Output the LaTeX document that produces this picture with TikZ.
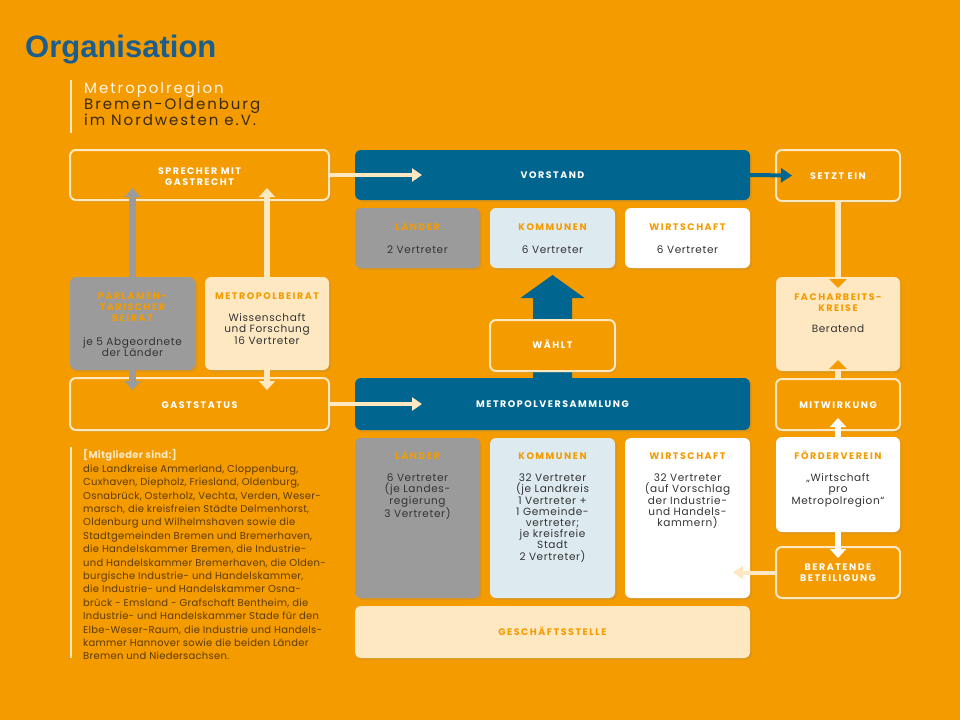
\documentclass[tikz,border=0pt]{standalone}
\usepackage{fontspec}
\setmainfont{Liberation Sans}
\newfontfamily\hfont[LetterSpace=16]{Poppins}
\newfontfamily\tfont[LetterSpace=6]{Poppins}
\newfontfamily\lfont[LetterSpace=2.5]{Poppins}
\newfontfamily\mfont[LetterSpace=13]{Poppins}
\usetikzlibrary{arrows.meta,fit,shadows}
\definecolor{org}{HTML}{F49B00}
\definecolor{dblue}{HTML}{00668F}
\definecolor{gry}{HTML}{9B9B9B}
\definecolor{lblue}{HTML}{DDEBF0}
\definecolor{cream}{HTML}{FEE8C2}
\definecolor{txt}{HTML}{333333}
\definecolor{ttl}{HTML}{1B5E8E}
\definecolor{brn}{HTML}{5E3B00}
\definecolor{mdark}{HTML}{3A2A12}
\newcommand\fl{\rule{0pt}{9pt}}
\begin{document}
\begin{tikzpicture}[x=1pt,y=-1pt,
  base/.style={inner sep=0pt, outer sep=0pt, rounded corners=6pt,
    drop shadow={opacity=0.18, shadow xshift=2pt, shadow yshift=-2pt}},
  orbox/.style={base, fill=org, draw=cream, line width=2pt},
  bluebox/.style={base, fill=dblue},
  greybox/.style={base, fill=gry},
  lbbox/.style={base, fill=lblue},
  crbox/.style={base, fill=cream},
  whbox/.style={base, fill=white},
  hd/.style={inner sep=0pt, anchor=north, align=center, font=\hfont\bfseries\fontsize{9.5}{11}\selectfont, text=org},
  hdw/.style={hd, text=white},
  tx/.style={inner sep=0pt, anchor=north, align=center, font=\tfont\fontsize{10.5}{11.2}\selectfont, text=txt},
  harr/.style={line width=4pt, -{Triangle[width=13pt,length=10pt]}},
  varr/.style={line width=6pt, -{Triangle[width=16pt,length=9pt]}},
  gvarr/.style={line width=7pt, -{Triangle[width=16pt,length=9pt]}}
]
\useasboundingbox (0,0) rectangle (960,720);
\fill[org] (0,0) rectangle (960,720);

% title and heading
\node[anchor=base west, inner sep=0pt, font=\bfseries\fontsize{31}{36}\selectfont, text=ttl] (title) at (25,57) {Organisation};
\draw[cream, line width=2pt] (71,80) -- (71,133);
\node[anchor=base west, inner sep=0pt, font=\mfont\fontsize{15}{15.5}\selectfont, text=cream!40!white] (m1) at (84,93.5) {Metropolregion};
\node[anchor=base west, inner sep=0pt, font=\mfont\fontsize{15}{15.5}\selectfont, text=mdark] (m2) at (84,109.5) {Bremen-Oldenburg};
\node[anchor=base west, inner sep=0pt, font=\mfont\fontsize{15}{15.5}\selectfont, text=mdark] (m3) at (84,125.5) {im Nordwesten e.V.};

% boxes
\node[orbox, fit={(70,150) (329,200)}] (spr) {};
\node[bluebox, fit={(355,150) (750,200)}] (vor) {};
\node[orbox, fit={(776,150) (900,201)}] (se) {};
\node[greybox, fit={(355,208) (480,268)}] (l1) {};
\node[lbbox, fit={(490,208) (615,268)}] (k1) {};
\node[whbox, fit={(625,208) (750,268)}] (w1) {};
\node[greybox, fit={(70,277) (195,370)}] (parl) {};
\node[crbox, fit={(205,277) (329,370)}] (mb) {};
\node[crbox, fit={(776,277) (900,371)}] (fak) {};
\node[orbox, fit={(70,378) (329,430)}] (gs) {};
\node[bluebox, fit={(355,378) (750,430)}] (mv) {};
\node[orbox, fit={(776,379) (900,430)}] (mw) {};
\node[greybox, fit={(355,438) (480,598)}] (l2) {};
\node[lbbox, fit={(490,438) (615,598)}] (k2) {};
\node[whbox, fit={(625,438) (750,598)}] (w2) {};
\node[whbox, fit={(776,437) (900,532)}] (fv) {};
\node[orbox, fit={(776,547) (900,598)}] (bb) {};
\node[crbox, fit={(355,606) (750,658)}] (gst) {};

% big arrow (waehlt)
\fill[dblue] ([xshift=-19.5pt]mv.north) -- ([xshift=-19.5pt,yshift=80pt]mv.north)
  -- ([xshift=-32pt,yshift=80pt]mv.north) -- ([yshift=103pt]mv.north)
  -- ([xshift=32pt,yshift=80pt]mv.north) -- ([xshift=19.5pt,yshift=80pt]mv.north)
  -- ([xshift=19.5pt]mv.north) -- cycle;
\node[orbox, fit={(490,320) (615,371)}] (wa) {};

% texts
\node[hdw] (spr-t) at (199.5,165.5) {\fl SPRECHER MIT\\GASTRECHT};
\node[hdw] (vor-t) at (552.5,169.5) {\fl VORSTAND};
\node[hdw] (se-t) at (838,170.5) {\fl SETZT EIN};
\node[hd] (l1-h) at (417.5,221.5) {\fl LÄNDER};
\node[tx] (l1-t) at (417.5,244.5) {\fl 2 Vertreter};
\node[hd] (k1-h) at (552.5,221.5) {\fl KOMMUNEN};
\node[tx] (k1-t) at (552.5,244.5) {\fl 6 Vertreter};
\node[hd] (w1-h) at (687.5,221.5) {\fl WIRTSCHAFT};
\node[tx] (w1-t) at (687.5,244.5) {\fl 6 Vertreter};
\node[hd] (parl-h) at (132.5,290.5) {\fl PARLAMEN-\\TARISCHER\\BEIRAT};
\node[tx] (parl-t) at (132.5,336.5) {\fl je 5 Abgeordnete\\der Länder};
\node[hd] (mb-h) at (267,290.5) {\fl METROPOLBEIRAT};
\node[tx] (mb-t) at (267,312.5) {\fl Wissenschaft\\und Forschung\\16 Vertreter};
\node[hd] (fak-h) at (838,291.5) {\fl FACHARBEITS-\\KREISE};
\node[tx] (fak-t) at (838,323.5) {\fl Beratend};
\node[hdw] (wa-t) at (552.5,339.5) {\fl WÄHLT};
\node[hdw] (gs-t) at (199.5,399.5) {\fl GASTSTATUS};
\node[hdw] (mv-t) at (552.5,398.5) {\fl METROPOLVERSAMMLUNG};
\node[hdw] (mw-t) at (838,399.5) {\fl MITWIRKUNG};
\node[hd] (l2-h) at (417.5,450.5) {\fl LÄNDER};
\node[tx] (l2-t) at (417.5,472.5) {\fl 6 Vertreter\\(je Landes-\\regierung\\3 Vertreter)};
\node[hd] (k2-h) at (552.5,450.5) {\fl KOMMUNEN};
\node[tx] (k2-t) at (552.5,472.5) {\fl 32 Vertreter\\(je Landkreis\\1 Vertreter +\\1 Gemeinde-\\vertreter;\\je kreisfreie\\Stadt\\2 Vertreter)};
\node[hd] (w2-h) at (687.5,450.5) {\fl WIRTSCHAFT};
\node[tx] (w2-t) at (687.5,472.5) {\fl 32 Vertreter\\(auf Vorschlag\\der Industrie-\\und Handels-\\kammern)};
\node[hd] (fv-h) at (838,450.5) {\fl FÖRDERVEREIN};
\node[tx] (fv-t) at (838,472.5) {\fl „Wirtschaft\\pro\\Metropolregion“};
\node[hdw] (bb-t) at (838,561.5) {\fl BERATENDE\\BETEILIGUNG};
\node[hd] (gst-t) at (552.5,626.5) {\fl GESCHÄFTSSTELLE};

% members text
\draw[cream, line width=2pt] (71,447) -- (71,658);
\node[anchor=north west, inner sep=0pt, align=left, font=\lfont\fontsize{10}{13.4}\selectfont, text=brn] (mem) at (83,449.5) {\fl{\color{cream}\bfseries [Mitglieder sind:]}\\
die Landkreise Ammerland, Cloppenburg,\\
Cuxhaven, Diepholz, Friesland, Oldenburg,\\
Osnabrück, Osterholz, Vechta, Verden, Weser-\\
marsch, die kreisfreien Städte Delmenhorst,\\
Oldenburg und Wilhelmshaven sowie die\\
Stadtgemeinden Bremen und Bremerhaven,\\
die Handelskammer Bremen, die Industrie-\\
und Handelskammer Bremerhaven, die Olden-\\
burgische Industrie- und Handelskammer,\\
die Industrie- und Handelskammer Osna-\\
brück - Emsland - Grafschaft Bentheim, die\\
Industrie- und Handelskammer Stade für den\\
Elbe-Weser-Raum, die Industrie und Handels-\\
kammer Hannover sowie die beiden Länder\\
Bremen und Niedersachsen.};

% connectors
\draw[harr, cream] (spr.east) -- ([xshift=67pt]vor.west);
\draw[harr, cream] (gs.east) -- ([xshift=67pt]mv.west);
\draw[harr, dblue, -{Triangle[width=14pt,length=11pt]}] (vor.east) -- ([xshift=16pt]se.west);
\draw[gvarr, gry] (parl.north) -- ([yshift=12pt]parl.north |- spr.south);
\draw[gvarr, gry] (parl.south) -- ([yshift=-12pt]parl.south |- gs.north);
\draw[varr, cream] (mb.north) -- ([yshift=12pt]mb.north |- spr.south);
\draw[varr, cream] (mb.south) -- ([yshift=-12pt]mb.south |- gs.north);
\draw[line width=6pt, cream, -{Triangle[width=17pt,length=9pt,color=org]}] (se.south) -- ([yshift=-11pt]fak.north);
\draw[line width=6pt, cream, -{Triangle[width=17pt,length=9pt,color=org]}] (mw.north) -- ([yshift=11pt]fak.south);
\draw[varr, white] (fv.north) -- ([yshift=12pt]mw.south);
\draw[varr, white] (fv.south) -- ([yshift=-11pt]bb.north);
\draw[harr, cream] (bb.west) -- ([xshift=-17pt]w2.east |- bb.west);
\end{tikzpicture}
\end{document}
